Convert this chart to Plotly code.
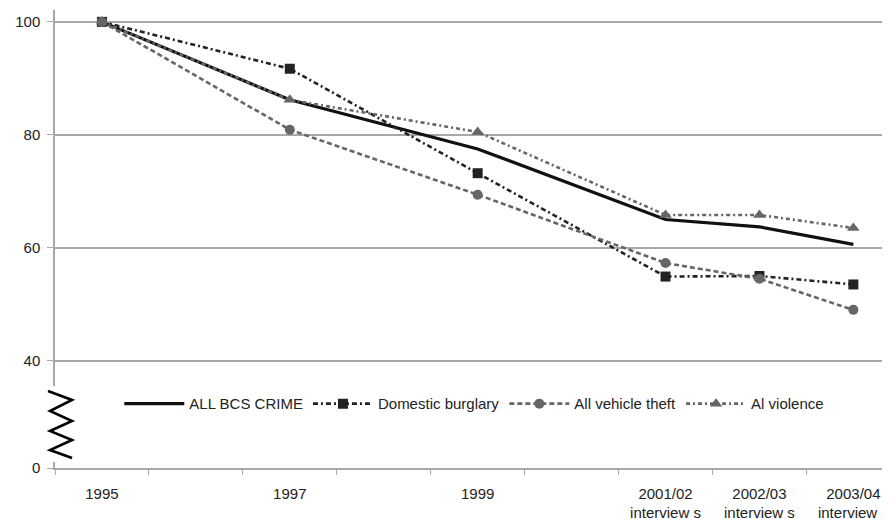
import plotly.graph_objects as go

# ---- data ----
years = [1995, 1997, 1999, 2001, 2002, 2003]
tick_labels = ["1995", "1997", "1999", "2001/02<br>interview s", "2002/03<br>interview s", "2003/04<br>interview s"]
all_bcs = [100, 86.2, 77.5, 65.0, 63.7, 60.6]
burglary = [100, 91.7, 73.2, 54.9, 55.0, 53.5]
vehicle = [100, 80.9, 69.4, 57.3, 54.5, 49.0]
violence = [100, 86.2, 80.5, 65.8, 65.8, 63.5]
y_tick_vals = [21.0, 40, 60, 80, 100]
y_tick_text = ["0", "40", "60", "80", "100"]

FONT = "Liberation Sans, Arial, sans-serif"
GRID = "#a8a8a8"

fig = go.Figure()
fig.add_trace(go.Scatter(x=years, y=all_bcs, name="ALL BCS CRIME", mode="lines",
                         line=dict(color="#111111", width=3.2)))
fig.add_trace(go.Scatter(x=years, y=burglary, name="Domestic burglary", mode="lines+markers",
                         line=dict(color="#222222", width=2.6, dash="5px,3px,2px,3px"),
                         marker=dict(symbol="square", size=10, color="#222222")))
fig.add_trace(go.Scatter(x=years, y=vehicle, name="All vehicle theft", mode="lines+markers",
                         line=dict(color="#666666", width=2.6, dash="5px,3px"),
                         marker=dict(symbol="circle", size=10, color="#666666")))
fig.add_trace(go.Scatter(x=years, y=violence, name="Al violence", mode="lines+markers",
                         line=dict(color="#666666", width=2.6, dash="4px,3px,2px,3px"),
                         marker=dict(symbol="triangle-up", size=11, color="#666666")))

# page offset (body margin) and plot geometry in figure pixels
OFF = 8
W, H = 890 - OFF, 519 - OFF
L, T, PW, PH = 55 - OFF, 10 - OFF, 835, 458


def px2paper(px, py):
    return (px - OFF - L) / PW, (T + PH - (py - OFF)) / PH


# gap in the y-axis line where the break symbol sits
x0, y0 = px2paper(52, 386)
x1, y1 = px2paper(59, 462)
fig.add_shape(type="rect", xref="paper", yref="paper", x0=x0, x1=x1, y0=y1, y1=y0,
              fillcolor="white", line=dict(width=0), layer="above")

# zigzag axis-break symbol (decoration, placed in page pixels)
zz_px = [(48, 391), (72, 400), (50, 411), (72, 421), (50, 431), (72, 440), (50, 450), (72, 458)]
path = ""
for i, (px, py) in enumerate(zz_px):
    xp, yp = px2paper(px, py)
    path += ("M" if i == 0 else "L") + f"{xp:.4f},{yp:.4f} "
fig.add_shape(type="path", path=path, xref="paper", yref="paper",
              line=dict(color="black", width=2.6), layer="above")

fig.update_layout(
    width=W, height=H,
    margin=dict(l=L, r=0, t=T, b=H - T - PH, autoexpand=False),
    paper_bgcolor="white", plot_bgcolor="white",
    font=dict(family=FONT, size=15, color="#222222"),
    showlegend=True,
    legend=dict(orientation="h", x=0.077, y=0.14, xanchor="left", yanchor="middle",
                bgcolor="rgba(0,0,0,0)", font=dict(size=15, color="#222222"),
                itemwidth=60, tracegroupgap=0),
    xaxis=dict(range=[1994.5, 2003.39], tickvals=years, ticktext=tick_labels,
               automargin=False,
               showgrid=False, zeroline=False, showline=True, linecolor=GRID, linewidth=1.5,
               ticks="", ticklabelstandoff=11,
               minor=dict(ticks="outside", tick0=1994.5, dtick=1, ticklen=5,
                          tickcolor=GRID, showgrid=False)),
    yaxis=dict(range=[21.0, 102.1], tickvals=y_tick_vals, ticktext=y_tick_text,
               automargin=False,
               showgrid=True, gridcolor=GRID, gridwidth=1.5, zeroline=False,
               showline=True, linecolor=GRID, linewidth=1.5,
               ticks="outside", ticklen=6, tickcolor=GRID, ticklabelstandoff=4),
)

fig.write_html("out.html")
